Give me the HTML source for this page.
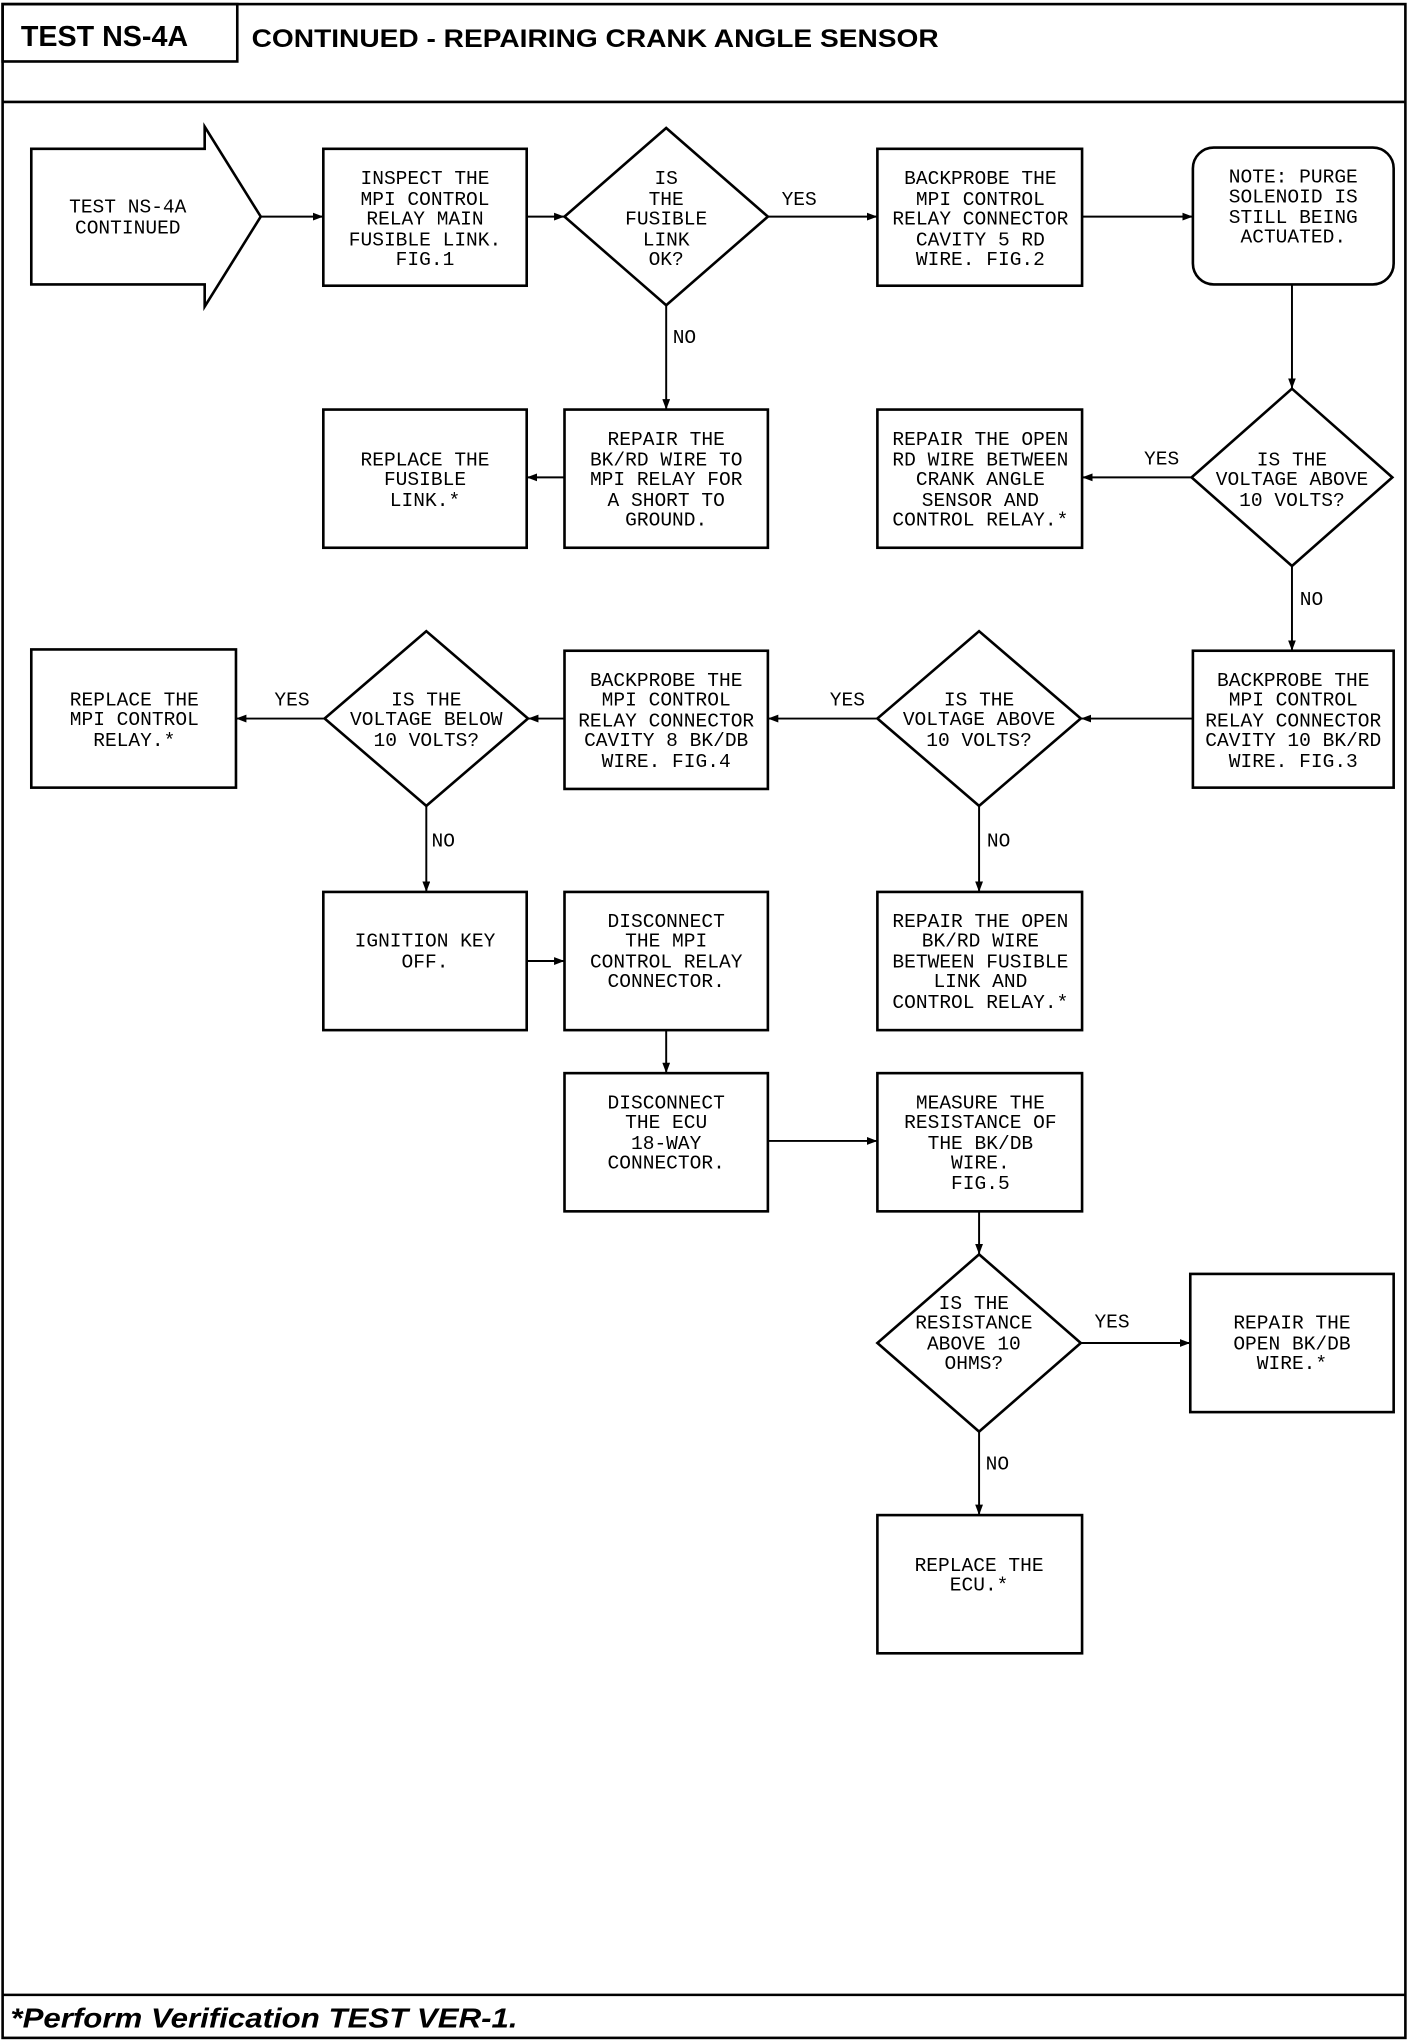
<!DOCTYPE html>
<html><head><meta charset="utf-8"><style>
html,body{margin:0;padding:0;background:#fff;width:1408px;height:2042px;overflow:hidden}
svg{display:block}
.t{font-family:"Liberation Mono",monospace;font-size:15px;text-anchor:middle;fill:#000}
</style></head><body>
<svg width="1408" height="2042" viewBox="0 0 1080 1566" xmlns="http://www.w3.org/2000/svg">
<defs><marker id="a" markerWidth="8" markerHeight="6" refX="8" refY="3" orient="auto" markerUnits="userSpaceOnUse"><path d="M0,0 L8,3 L0,6 z" fill="#000"/></marker></defs>
<g fill="none" stroke="#000" stroke-width="2">
<rect x="2" y="3" width="1076" height="1560"/>
<rect x="2" y="3" width="180" height="44"/>
<line x1="2" y1="78" x2="1078" y2="78"/>
<line x1="2" y1="1530" x2="1078" y2="1530"/>
<path d="M24,114 H157 V97 L200,166 L157,235 V218 H24 Z"/>
<rect x="248" y="114" width="156" height="105"/>
<path d="M511,98 L589,166 L511,234 L433,166 Z"/>
<rect x="673" y="114" width="157" height="105"/>
<rect x="915" y="113" width="154" height="105" rx="16"/>
<rect x="248" y="314" width="156" height="106"/>
<rect x="433" y="314" width="156" height="106"/>
<rect x="673" y="314" width="157" height="106"/>
<path d="M991,298 L1068,366 L991,434 L914,366 Z"/>
<rect x="24" y="498" width="157" height="106"/>
<path d="M327,484 L405,551 L327,618 L249,551 Z"/>
<rect x="433" y="499" width="156" height="106"/>
<path d="M751,484 L829,551 L751,618 L673,551 Z"/>
<rect x="915" y="499" width="154" height="105"/>
<rect x="248" y="684" width="156" height="106"/>
<rect x="433" y="684" width="156" height="106"/>
<rect x="673" y="684" width="157" height="106"/>
<rect x="433" y="823" width="156" height="106"/>
<rect x="673" y="823" width="157" height="106"/>
<path d="M751,962 L829,1030 L751,1098 L673,1030 Z"/>
<rect x="913" y="977" width="156" height="106"/>
<rect x="673" y="1162" width="157" height="106"/>
</g>
<g stroke="#000" stroke-width="1.5" marker-end="url(#a)">
<line x1="200" y1="166" x2="248" y2="166"/>
<line x1="404" y1="166" x2="433" y2="166"/>
<line x1="589" y1="166" x2="673" y2="166"/>
<line x1="830" y1="166" x2="915" y2="166"/>
<line x1="991" y1="218" x2="991" y2="298"/>
<line x1="511" y1="234" x2="511" y2="314"/>
<line x1="433" y1="366" x2="404" y2="366"/>
<line x1="914" y1="366" x2="830" y2="366"/>
<line x1="991" y1="434" x2="991" y2="499"/>
<line x1="915" y1="551" x2="829" y2="551"/>
<line x1="673" y1="551" x2="589" y2="551"/>
<line x1="433" y1="551" x2="405" y2="551"/>
<line x1="249" y1="551" x2="181" y2="551"/>
<line x1="327" y1="618" x2="327" y2="684"/>
<line x1="751" y1="618" x2="751" y2="684"/>
<line x1="404" y1="737" x2="433" y2="737"/>
<line x1="511" y1="790" x2="511" y2="823"/>
<line x1="589" y1="875" x2="673" y2="875"/>
<line x1="751" y1="929" x2="751" y2="962"/>
<line x1="829" y1="1030" x2="913" y2="1030"/>
<line x1="751" y1="1098" x2="751" y2="1162"/>
</g>
<text x="16" y="35" font-family="Liberation Sans,sans-serif" font-weight="bold" font-size="22">TEST NS-4A</text>
<text x="193" y="36" font-family="Liberation Sans,sans-serif" font-weight="bold" font-size="19" textLength="527" lengthAdjust="spacingAndGlyphs">CONTINUED - REPAIRING CRANK ANGLE SENSOR</text>
<text x="8" y="1555" font-family="Liberation Sans,sans-serif" font-weight="bold" font-style="italic" font-size="21" textLength="389" lengthAdjust="spacingAndGlyphs">*Perform Verification TEST VER-1.</text>
<g class="t">
<text x="98" y="163">TEST NS-4A</text><text x="98" y="179">CONTINUED</text>
<text x="326" y="141">INSPECT THE</text><text x="326" y="157">MPI CONTROL</text><text x="326" y="172">RELAY MAIN</text><text x="326" y="188">FUSIBLE LINK.</text><text x="326" y="203">FIG.1</text>
<text x="511" y="141">IS</text><text x="511" y="157">THE</text><text x="511" y="172">FUSIBLE</text><text x="511" y="188">LINK</text><text x="511" y="203">OK?</text>
<text x="752" y="141">BACKPROBE THE</text><text x="752" y="157">MPI CONTROL</text><text x="752" y="172">RELAY CONNECTOR</text><text x="752" y="188">CAVITY 5 RD</text><text x="752" y="203">WIRE. FIG.2</text>
<text x="992" y="140">NOTE: PURGE</text><text x="992" y="155">SOLENOID IS</text><text x="992" y="171">STILL BEING</text><text x="992" y="186">ACTUATED.</text>
<text x="326" y="357">REPLACE THE</text><text x="326" y="372">FUSIBLE</text><text x="326" y="388">LINK.*</text>
<text x="511" y="341">REPAIR THE</text><text x="511" y="357">BK/RD WIRE TO</text><text x="511" y="372">MPI RELAY FOR</text><text x="511" y="388">A SHORT TO</text><text x="511" y="403">GROUND.</text>
<text x="752" y="341">REPAIR THE OPEN</text><text x="752" y="357">RD WIRE BETWEEN</text><text x="752" y="372">CRANK ANGLE</text><text x="752" y="388">SENSOR AND</text><text x="752" y="403">CONTROL RELAY.*</text>
<text x="991" y="357">IS THE</text><text x="991" y="372">VOLTAGE ABOVE</text><text x="991" y="388">10 VOLTS?</text>
<text x="103" y="541">REPLACE THE</text><text x="103" y="556">MPI CONTROL</text><text x="103" y="572">RELAY.*</text>
<text x="327" y="541">IS THE</text><text x="327" y="556">VOLTAGE BELOW</text><text x="327" y="572">10 VOLTS?</text>
<text x="511" y="526">BACKPROBE THE</text><text x="511" y="541">MPI CONTROL</text><text x="511" y="557">RELAY CONNECTOR</text><text x="511" y="572">CAVITY 8 BK/DB</text><text x="511" y="588">WIRE. FIG.4</text>
<text x="751" y="541">IS THE</text><text x="751" y="556">VOLTAGE ABOVE</text><text x="751" y="572">10 VOLTS?</text>
<text x="992" y="526">BACKPROBE THE</text><text x="992" y="541">MPI CONTROL</text><text x="992" y="557">RELAY CONNECTOR</text><text x="992" y="572">CAVITY 10 BK/RD</text><text x="992" y="588">WIRE. FIG.3</text>
<text x="326" y="726">IGNITION KEY</text><text x="326" y="742">OFF.</text>
<text x="511" y="711">DISCONNECT</text><text x="511" y="726">THE MPI</text><text x="511" y="742">CONTROL RELAY</text><text x="511" y="757">CONNECTOR.</text>
<text x="752" y="711">REPAIR THE OPEN</text><text x="752" y="726">BK/RD WIRE</text><text x="752" y="742">BETWEEN FUSIBLE</text><text x="752" y="757">LINK AND</text><text x="752" y="773">CONTROL RELAY.*</text>
<text x="511" y="850">DISCONNECT</text><text x="511" y="865">THE ECU</text><text x="511" y="881">18-WAY</text><text x="511" y="896">CONNECTOR.</text>
<text x="752" y="850">MEASURE THE</text><text x="752" y="865">RESISTANCE OF</text><text x="752" y="881">THE BK/DB</text><text x="752" y="896">WIRE.</text><text x="752" y="912">FIG.5</text>
<text x="747" y="1004">IS THE</text><text x="747" y="1019">RESISTANCE</text><text x="747" y="1035">ABOVE 10</text><text x="747" y="1050">OHMS?</text>
<text x="991" y="1019">REPAIR THE</text><text x="991" y="1035">OPEN BK/DB</text><text x="991" y="1050">WIRE.*</text>
<text x="751" y="1205">REPLACE THE</text><text x="751" y="1220">ECU.*</text>
<text x="613" y="157">YES</text><text x="525" y="263">NO</text>
<text x="891" y="356">YES</text><text x="1006" y="464">NO</text>
<text x="650" y="541">YES</text><text x="224" y="541">YES</text>
<text x="340" y="649">NO</text><text x="766" y="649">NO</text>
<text x="853" y="1018">YES</text><text x="765" y="1127">NO</text>
</g>
</svg>
</body></html>
